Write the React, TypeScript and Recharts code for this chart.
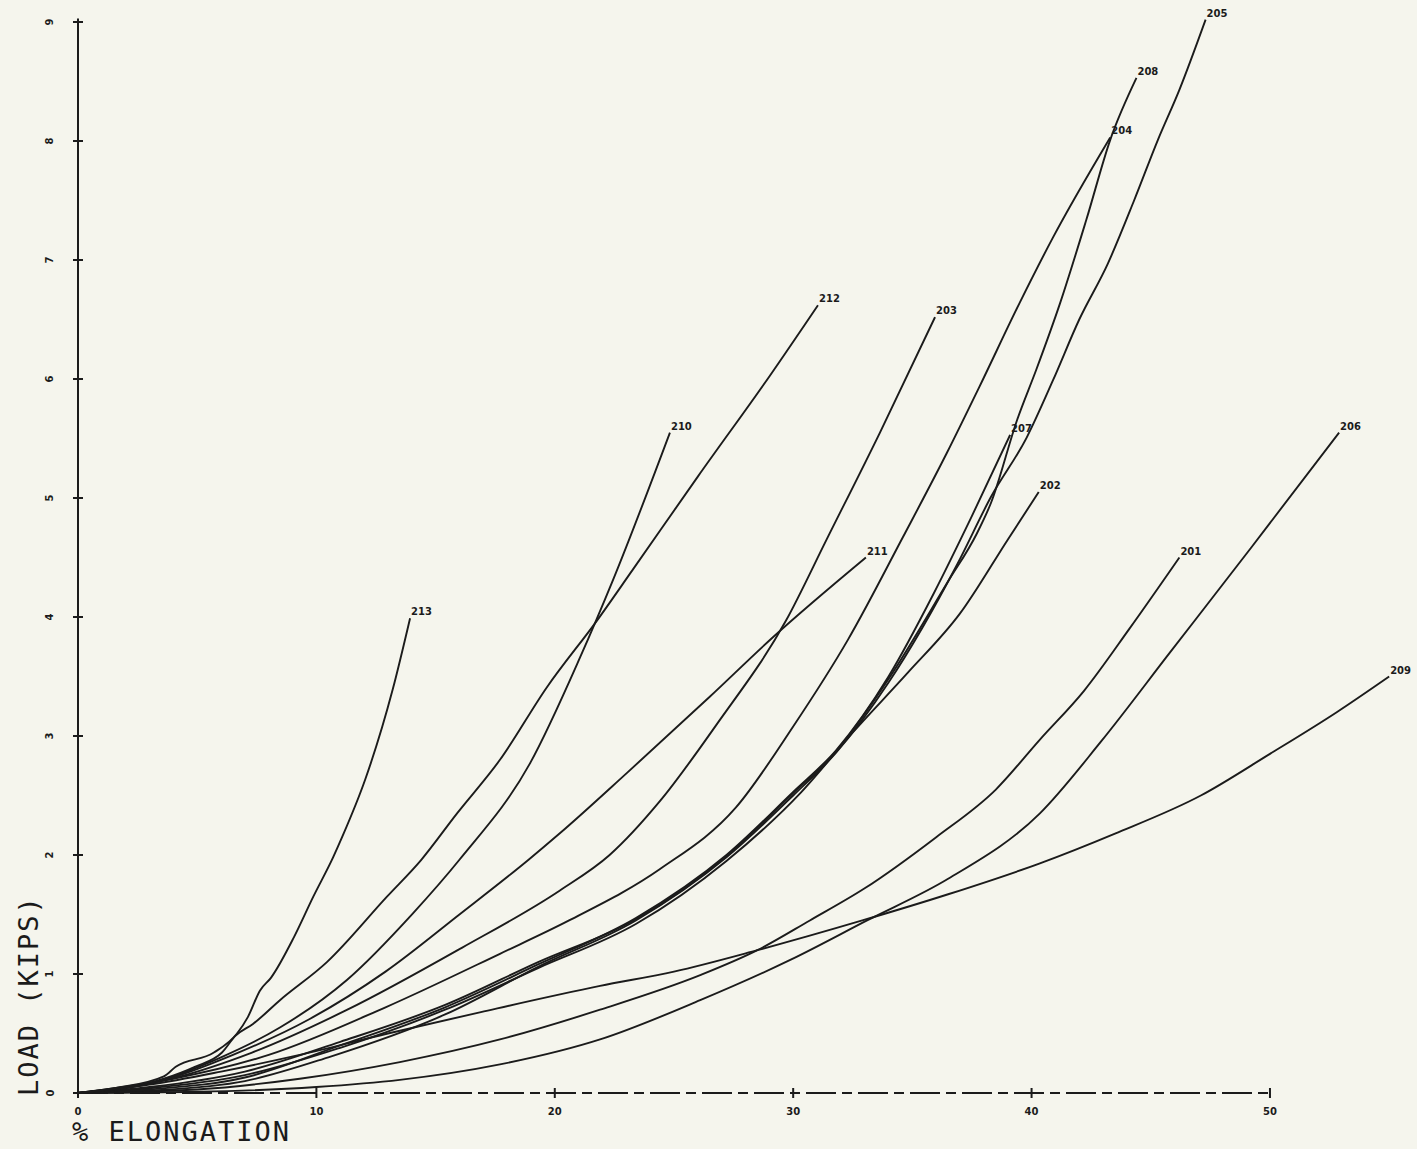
import { LineChart, Line, XAxis, YAxis, ReferenceLine } from "recharts"

type Pt = [number, number]

// % elongation, load (kips)
const s201: Pt[] = [[0,0],[5,0.03],[9.3,0.12],[13.5,0.26],[17.7,0.45],[21.9,0.7],[26.1,0.99],[28.5,1.2],[30.7,1.45],[33,1.72],[36,2.15],[38.5,2.55],[40.35,2.97],[42.2,3.38],[44.1,3.9],[46.2,4.5]]
const s202: Pt[] = [[0,0],[3,0.04],[7,0.15],[11,0.38],[15.4,0.7],[19.3,1.05],[23.4,1.42],[27.2,1.95],[30.3,2.52],[32.5,3.03],[34.8,3.53],[37,4.03],[39,4.65],[40.3,5.05]]
const s203: Pt[] = [[0,0],[4.1,0.13],[7.3,0.34],[11.3,0.7],[16.1,1.22],[20.2,1.7],[22.3,2.0],[24.4,2.45],[26.8,3.1],[29.7,3.97],[31.4,4.65],[33.64,5.55],[35.95,6.52]]
const s204: Pt[] = [[0,0],[4,0.12],[8,0.32],[12.9,0.72],[17.7,1.17],[20.6,1.45],[24.4,1.88],[27.6,2.4],[30,3.08],[32.3,3.81],[34.6,4.67],[36.45,5.38],[37.8,5.93],[39.5,6.64],[40.9,7.19],[43.3,8.03]]
const s205: Pt[] = [[0,0],[3,0.02],[7,0.1],[10.5,0.3],[15.4,0.66],[19.3,1.06],[23.4,1.45],[27.2,1.98],[30,2.5],[31.8,2.86],[34,3.45],[36.9,4.45],[38.3,5.01],[39.8,5.51],[40.9,5.99],[42,6.5],[43.2,6.97],[44.3,7.5],[45.3,8.01],[46.2,8.43],[47.3,9.02]]
const s206: Pt[] = [[0,0],[5,0.01],[10,0.05],[13.5,0.11],[17.7,0.24],[21.9,0.45],[26.1,0.78],[29.9,1.12],[33.1,1.45],[36.5,1.8],[40.35,2.35],[42.9,2.95],[45.8,3.7],[49.2,4.58],[52.9,5.55]]
const s207: Pt[] = [[0,0],[3,0.03],[7,0.13],[11,0.4],[15.4,0.72],[19.3,1.08],[23.4,1.47],[27.2,2.0],[30,2.53],[31.8,2.88],[34,3.5],[35.9,4.2],[37.5,4.85],[39.1,5.53]]
const s208: Pt[] = [[0,0],[3,0.05],[7,0.18],[11,0.43],[15.4,0.74],[19.3,1.1],[23.4,1.46],[27.2,1.99],[30,2.52],[31.8,2.87],[34,3.48],[36.5,4.3],[37.7,4.7],[38.3,4.96],[39.4,5.66],[40.2,6.08],[41.2,6.64],[42.3,7.34],[43.3,8.01],[44.4,8.53]]
const s209: Pt[] = [[0,0],[3,0.07],[6,0.18],[9.3,0.32],[13,0.5],[16.9,0.68],[21.9,0.9],[25,1.02],[28.5,1.2],[32.9,1.45],[36.5,1.67],[40.35,1.93],[43.5,2.18],[47.1,2.5],[50,2.85],[52.8,3.2],[55,3.5]]
const s210: Pt[] = [[0,0],[3,0.08],[6,0.3],[8.47,0.55],[11.28,0.95],[14.05,1.51],[16,1.96],[18.96,2.77],[21.06,3.66],[22.44,4.31],[24.83,5.55]]
const s211: Pt[] = [[0,0],[3.8,0.12],[6.5,0.32],[9.7,0.62],[12.9,1.02],[16,1.5],[18.9,1.96],[20.2,2.18],[23.03,2.69],[26.5,3.33],[29.15,3.83],[33.05,4.5]]
const s212: Pt[] = [[0,0],[3.6,0.12],[4.9,0.22],[6.04,0.34],[6.6,0.48],[7.34,0.58],[8.47,0.78],[10.44,1.1],[12.96,1.65],[14.4,1.96],[15.9,2.35],[17.7,2.8],[19.67,3.41],[21.77,3.97],[23.28,4.4],[26,5.18],[29.03,6.03],[31.04,6.62]]
const s213: Pt[] = [[0,0],[1.5,0.04],[3.6,0.14],[4.1,0.22],[5.7,0.34],[6.67,0.5],[7.13,0.64],[7.63,0.86],[8.1,0.97],[9.06,1.31],[9.87,1.65],[10.7,1.98],[11.1,2.16],[12.04,2.63],[13.2,3.39],[13.93,3.99]]

const specimens = ["201","202","203","204","205","206","207","208","209","210","211","212","213"]
const curves = [s201,s202,s203,s204,s205,s206,s207,s208,s209,s210,s211,s212,s213]

const xTicks = [0, 10, 20, 30, 40, 50]
const yTicks = [0, 1, 2, 3, 4, 5, 6, 7, 8, 9]

const INK = "#1b1b1b"
const PAPER = "#f5f5ed"
const MONO = "'DejaVu Sans Mono', monospace"

function XTick({ x, y, payload }: any) {
  return (
    <g>
      <line x1={x} x2={x} y1={y - 5} y2={y + 5} stroke={INK} strokeWidth={2} />
      <text x={x} y={y + 22} textAnchor="middle" fontSize={10} fontWeight="bold" fill={INK} fontFamily="DejaVu Sans">{payload.value}</text>
    </g>
  )
}

function YTick({ x, y, payload }: any) {
  const lx = x - 28
  return (
    <g>
      <line x1={x - 5} x2={x + 5} y1={y} y2={y} stroke={INK} strokeWidth={2} />
      <text x={lx} y={y} transform={`rotate(-90 ${lx} ${y})`} textAnchor="middle" dominantBaseline="central"
        fontSize={10} fontWeight="bold" fill={INK} fontFamily="DejaVu Sans">{payload.value}</text>
    </g>
  )
}

export default function App() {
  return (
    <div style={{ position: "absolute", left: 0, top: 0, width: 1417, height: 1149, background: PAPER, overflow: "hidden" }}>
      <LineChart width={1417} height={1149} margin={{ top: 0, right: 4, bottom: 0, left: 0 }}>
        <XAxis type="number" dataKey="x" domain={[0, 56]} ticks={xTicks} axisLine={false} tickLine={false}
          tickSize={0} tickMargin={0} height={56} tick={<XTick />} allowDuplicatedCategory={false} />
        <YAxis type="number" domain={[0, 9.185]} ticks={yTicks} axisLine={false} tickLine={false}
          tickSize={0} tickMargin={0} width={78} tick={<YTick />} />
        <ReferenceLine segment={[{ x: 0, y: 0 }, { x: 0, y: 9.03 }]} stroke={INK} strokeWidth={2} />
        <ReferenceLine segment={[{ x: 0, y: 0 }, { x: 50, y: 0 }]} stroke={INK} strokeWidth={2} strokeDasharray="30 6 10 6" />
        {curves.map((pts, i) => {
          const id = specimens[i]
          const last = pts.length - 1
          return (
            <Line key={id} name={id} data={pts.map(([x, load]) => ({ x, load }))} dataKey="load" type="monotone"
              stroke={INK} strokeWidth={1.9} dot={false} isAnimationActive={false}
              label={(p: any) => p.index === last
                ? <text key={id} x={p.x + 1} y={p.y - 3} fontSize={10} fontWeight="bold" fill={INK} fontFamily="DejaVu Sans">{id}</text>
                : <g key={`${id}-${p.index}`} />} />
          )
        })}
      </LineChart>
      <div style={{ position: "absolute", left: 72, top: 1118, fontFamily: MONO, fontSize: 27, lineHeight: "27px", letterSpacing: 2, color: INK }}>
        % ELONGATION
      </div>
      <div style={{ position: "absolute", left: 15, top: 1096, transform: "rotate(-90deg)", transformOrigin: "left top",
        fontFamily: MONO, fontSize: 27, lineHeight: "27px", letterSpacing: 2, color: INK, whiteSpace: "nowrap" }}>
        LOAD (KIPS)
      </div>
    </div>
  )
}
